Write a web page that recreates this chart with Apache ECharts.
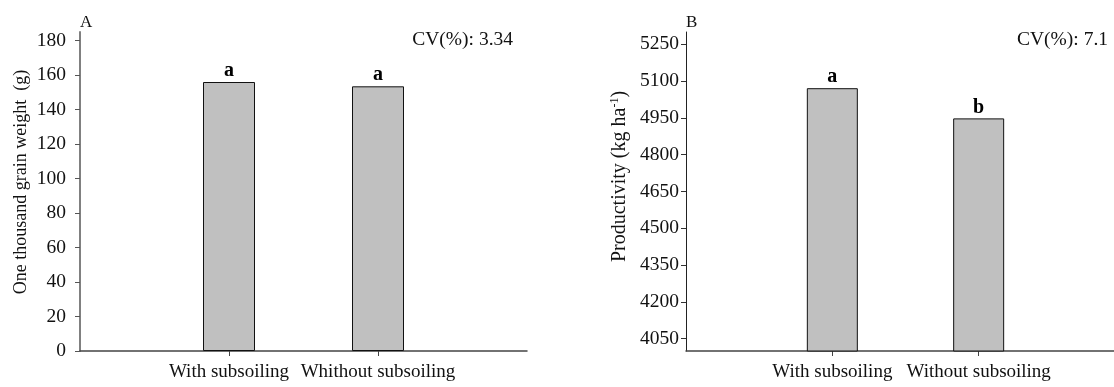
<!DOCTYPE html>
<html>
<head>
<meta charset="utf-8">
<script src="https://cdn.jsdelivr.net/npm/echarts@6/dist/echarts.min.js"></script>
<style>html,body{margin:0;padding:0;background:#fff;}#c{width:1114px;height:387px;}</style>
</head>
<body>
<div id="c"></div>
<script>
const categoriesA = ['With subsoiling', 'Whithout subsoiling'];
const categoriesB = ['With subsoiling', 'Without subsoiling'];
const valuesA = [156, 153.5];
const valuesB = [5071, 4948];
const lettersA = ['a', 'a'];
const lettersB = ['a', 'b'];
const yTicksA = [0, 20, 40, 60, 80, 100, 120, 140, 160, 180];
const yTicksB = [4050, 4200, 4350, 4500, 4650, 4800, 4950, 5100, 5250];
const cvA = 'CV(%): 3.34';
const cvB = 'CV(%): 7.1';

const FONT = 'Liberation Serif, Times New Roman, serif';
const pad = arr => ['', ...arr, ''];
const padData = arr => ['-', ...arr, '-'];

function xAxis(idx, cats) {
  return {
    type: 'category', gridIndex: idx, data: pad(cats), boundaryGap: false,
    axisLine: { lineStyle: { color: '#444', width: 1.5 } },
    axisTick: { show: true, length: 5, interval: (i) => i === 1 || i === 2, lineStyle: { color: '#444' } },
    axisLabel: { interval: 0, margin: 12, color: '#111', fontFamily: FONT, fontSize: 19 },
    splitLine: { show: false }
  };
}

const chart = echarts.init(document.getElementById('c'), null, { renderer: 'canvas' });
chart.setOption({
  animation: false,
  backgroundColor: '#fff',
  grid: [
    { left: 80, top: 32, width: 447, height: 319, outerBoundsMode: 'none', containLabel: false },
    { left: 686, top: 32, width: 439, height: 319, outerBoundsMode: 'none', containLabel: false }
  ],
  xAxis: [xAxis(0, categoriesA), xAxis(1, categoriesB)],
  yAxis: [
    {
      type: 'value', gridIndex: 0, min: 0, max: 185,
      name: 'One thousand grain weight  (g)', nameLocation: 'middle', nameGap: 50,
      nameTextStyle: { fontFamily: FONT, fontSize: 18, color: '#111', padding: [0, 0, 0, 19] },
      axisLine: { show: true, lineStyle: { color: '#808080', width: 2 } },
      axisTick: { show: true, length: 5, customValues: yTicksA, lineStyle: { color: '#555' } },
      axisLabel: { customValues: yTicksA, margin: 14, color: '#111', fontFamily: FONT, fontSize: 19.5, formatter: v => String(v) },
      splitLine: { show: false }
    },
    {
      type: 'value', gridIndex: 1, min: 4000, max: 5300,
      name: '{n|Productivity (kg ha}{s|-1}{n|)}', nameLocation: 'middle', nameGap: 56,
      nameTextStyle: {
        fontFamily: FONT, fontSize: 20, color: '#111', padding: [0, 0, 0, 30],
        rich: {
          n: { fontFamily: FONT, fontSize: 20, color: '#111' },
          s: { fontFamily: FONT, fontSize: 12, color: '#111', verticalAlign: 'top', padding: [0, 0, 9, 0] }
        }
      },
      axisLine: { show: true, lineStyle: { color: '#222', width: 1 } },
      axisTick: { show: true, length: 5, customValues: yTicksB, lineStyle: { color: '#333' } },
      axisLabel: { customValues: yTicksB, margin: 7, color: '#111', fontFamily: FONT, fontSize: 19.5, formatter: v => String(v) },
      splitLine: { show: false }
    }
  ],
  series: [
    {
      type: 'bar', xAxisIndex: 0, yAxisIndex: 0, barWidth: 52,
      data: padData(valuesA),
      itemStyle: { color: '#c0c0c0', borderColor: '#111', borderWidth: 1 },
      label: {
        show: true, position: 'top', distance: 1,
        formatter: p => lettersA[p.dataIndex - 1] || '',
        fontFamily: FONT, fontSize: 20, fontWeight: 'bold', color: '#000'
      }
    },
    {
      type: 'bar', xAxisIndex: 1, yAxisIndex: 1, barWidth: 51,
      data: padData(valuesB),
      itemStyle: { color: '#c0c0c0', borderColor: '#111', borderWidth: 1 },
      label: {
        show: true, position: 'top', distance: 1,
        formatter: p => lettersB[p.dataIndex - 1] || '',
        fontFamily: FONT, fontSize: 20, fontWeight: 'bold', color: '#000'
      }
    }
  ],
  graphic: [
    { type: 'text', left: 80, top: 14, style: { text: 'A', font: '17px ' + FONT, fill: '#111' } },
    { type: 'text', left: 686, top: 14, style: { text: 'B', font: '17px ' + FONT, fill: '#111' } },
    { type: 'text', right: 1114 - 513, top: 30, style: { text: cvA, font: '19.5px ' + FONT, fill: '#111' } },
    { type: 'text', right: 6, top: 30, style: { text: cvB, font: '19.5px ' + FONT, fill: '#111' } }
  ]
});
</script>
</body>
</html>
